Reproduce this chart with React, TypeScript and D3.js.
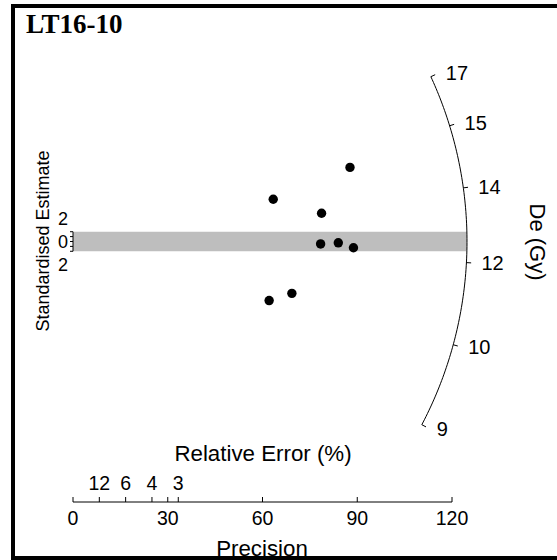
import React from "react";
import * as d3 from "d3";

// sample + radial plot values
const title = "LT16-10";
const deValues = [15.01, 14.47, 13.59, 12.55, 12.59, 12.45, 10.84, 10.4];
const precisionValues = [87.7, 63.4, 78.7, 78.4, 84.0, 88.8, 69.3, 62.1];
const centralDe = 12.63;

const zTickValues = [9, 10.6, 12.2, 13.8, 15.4, 17];
const zTickLabels = ["9", "10", "12", "14", "15", "17"];
const precisionTicks = [0, 30, 60, 90, 120];
const relErrorTicks = [12, 6, 4, 3];
const yTicks = [-2, -1, 0, 1, 2];
const yTickLabels = [
  { v: 2, label: "2", y: 225 },
  { v: 0, label: "0", y: 248 },
  { v: -2, label: "2", y: 271 },
];

const W = 557;
const H = 560;
const sans = "'Liberation Sans', Arial, sans-serif";

export default function App() {
  const x = d3.scaleLinear().domain([0, 120]).range([73, 452]);
  const sx = (x(120) - x(0)) / 120;
  const f = 1.55; // y/x pixel ratio
  const sy = sx * f;
  const y = d3.scaleLinear().domain([-40, 40]).range([241.5 + 40 * sy, 241.5 - 40 * sy]);

  const z0 = Math.log(centralDe);
  const r = 394 / sx; // arc radius in precision units

  const arcPoint = (de: number, k: number) => {
    const dz = Math.log(de) - z0;
    const ax = (r * k) / Math.sqrt(1 + f * f * dz * dz);
    return [x(ax), y(dz * ax)];
  };
  const pixSlope = (de: number) => f * (Math.log(de) - z0);

  const arcVals = d3.range(0, 101).map((i) =>
    Math.exp(Math.log(9) + (i / 100) * (Math.log(17) - Math.log(9)))
  );
  const arcPath = d3.line()(arcVals.map((v) => arcPoint(v, 1) as [number, number]));

  // 2-sigma band polygon up to the arc
  const R = 394;
  const bandTop = y(2);
  const bandBot = y(-2);
  const cy = y(0);
  const xTop = x(0) + Math.sqrt(R * R - (cy - bandTop) ** 2);
  const xBot = x(0) + Math.sqrt(R * R - (bandBot - cy) ** 2);
  const bandPts = [
    [x(0), bandTop],
    [xTop, bandTop],
    [x(0) + R, cy],
    [xBot, bandBot],
    [x(0), bandBot],
  ]
    .map((p) => p.join(","))
    .join(" ");

  const points = deValues.map((de, i) => {
    const p = precisionValues[i];
    const std = (Math.log(de) - z0) * p;
    return { cx: x(p), cy: y(std) };
  });

  const axisY = 502;

  return (
    <div style={{ position: "fixed", left: 0, top: 0, width: W, height: H, overflow: "hidden" }}>
      <svg width={W} height={H} style={{ display: "block", background: "#fff" }}>
        <text x={26} y={33} fontFamily="'Liberation Serif', 'Times New Roman', serif" fontWeight="bold" fontSize={27}>
          {title}
        </text>

        {/* 2 sigma band */}
        <polygon points={bandPts} fill="#bebebe" stroke="none" />

        {/* y axis */}
        <line x1={x(0)} x2={x(0)} y1={y(2)} y2={y(-2)} stroke="#000" strokeWidth={1} />
        {yTicks.map((t) => (
          <line key={t} x1={x(0) - 3} x2={x(0)} y1={y(t)} y2={y(t)} stroke="#000" strokeWidth={1} />
        ))}
        {yTickLabels.map((t) => (
          <text key={t.v + t.label} x={68} y={t.y} textAnchor="end" fontFamily={sans} fontSize={18}>
            {t.label}
          </text>
        ))}
        <text
          transform={`translate(49,${241}) rotate(-90)`}
          textAnchor="middle"
          fontFamily={sans}
          fontSize={18}
        >
          Standardised Estimate
        </text>

        {/* z axis arc */}
        <path d={arcPath || ""} fill="none" stroke="#000" strokeWidth={1} />
        {zTickValues.map((v, i) => {
          const [x1, y1] = arcPoint(v, 1);
          const [x2, y2] = arcPoint(v, 1.012);
          return (
            <g key={v}>
              <line x1={x1} y1={y1} x2={x2} y2={y2} stroke="#000" strokeWidth={1} />
              <text
                x={x1 + 15}
                y={y1 - 8 * pixSlope(v) + 7}
                textAnchor="start"
                fontFamily={sans}
                fontSize={20}
              >
                {zTickLabels[i]}
              </text>
            </g>
          );
        })}
        <text
          transform={`translate(530,${242}) rotate(90)`}
          textAnchor="middle"
          fontFamily={sans}
          fontSize={22}
        >
          De (Gy)
        </text>

        {/* points */}
        {points.map((p, i) => (
          <circle key={i} cx={p.cx} cy={p.cy} r={4.7} fill="#000" />
        ))}

        {/* x axis */}
        <line x1={x(0)} x2={x(120)} y1={axisY} y2={axisY} stroke="#000" strokeWidth={1} />
        {precisionTicks.map((t) => (
          <g key={t}>
            <line x1={x(t)} x2={x(t)} y1={axisY} y2={axisY - 5} stroke="#000" strokeWidth={1} />
            <text x={x(t)} y={525} textAnchor="middle" fontFamily={sans} fontSize={19.5}>
              {t}
            </text>
          </g>
        ))}
        {relErrorTicks.map((t) => (
          <g key={"re" + t}>
            <line x1={x(100 / t)} x2={x(100 / t)} y1={axisY} y2={axisY - 5} stroke="#000" strokeWidth={1} />
            <text x={x(100 / t)} y={490} textAnchor="middle" fontFamily={sans} fontSize={19.5}>
              {t}
            </text>
          </g>
        ))}
        <text x={263} y={461} textAnchor="middle" fontFamily={sans} fontSize={22.3}>
          Relative Error (%)
        </text>
        <text x={262} y={556} textAnchor="middle" fontFamily={sans} fontSize={22.3}>
          Precision
        </text>

        {/* frame */}
        <rect x={13} y={6} width={700} height={552} fill="none" stroke="#000" strokeWidth={4} />
      </svg>
    </div>
  );
}
